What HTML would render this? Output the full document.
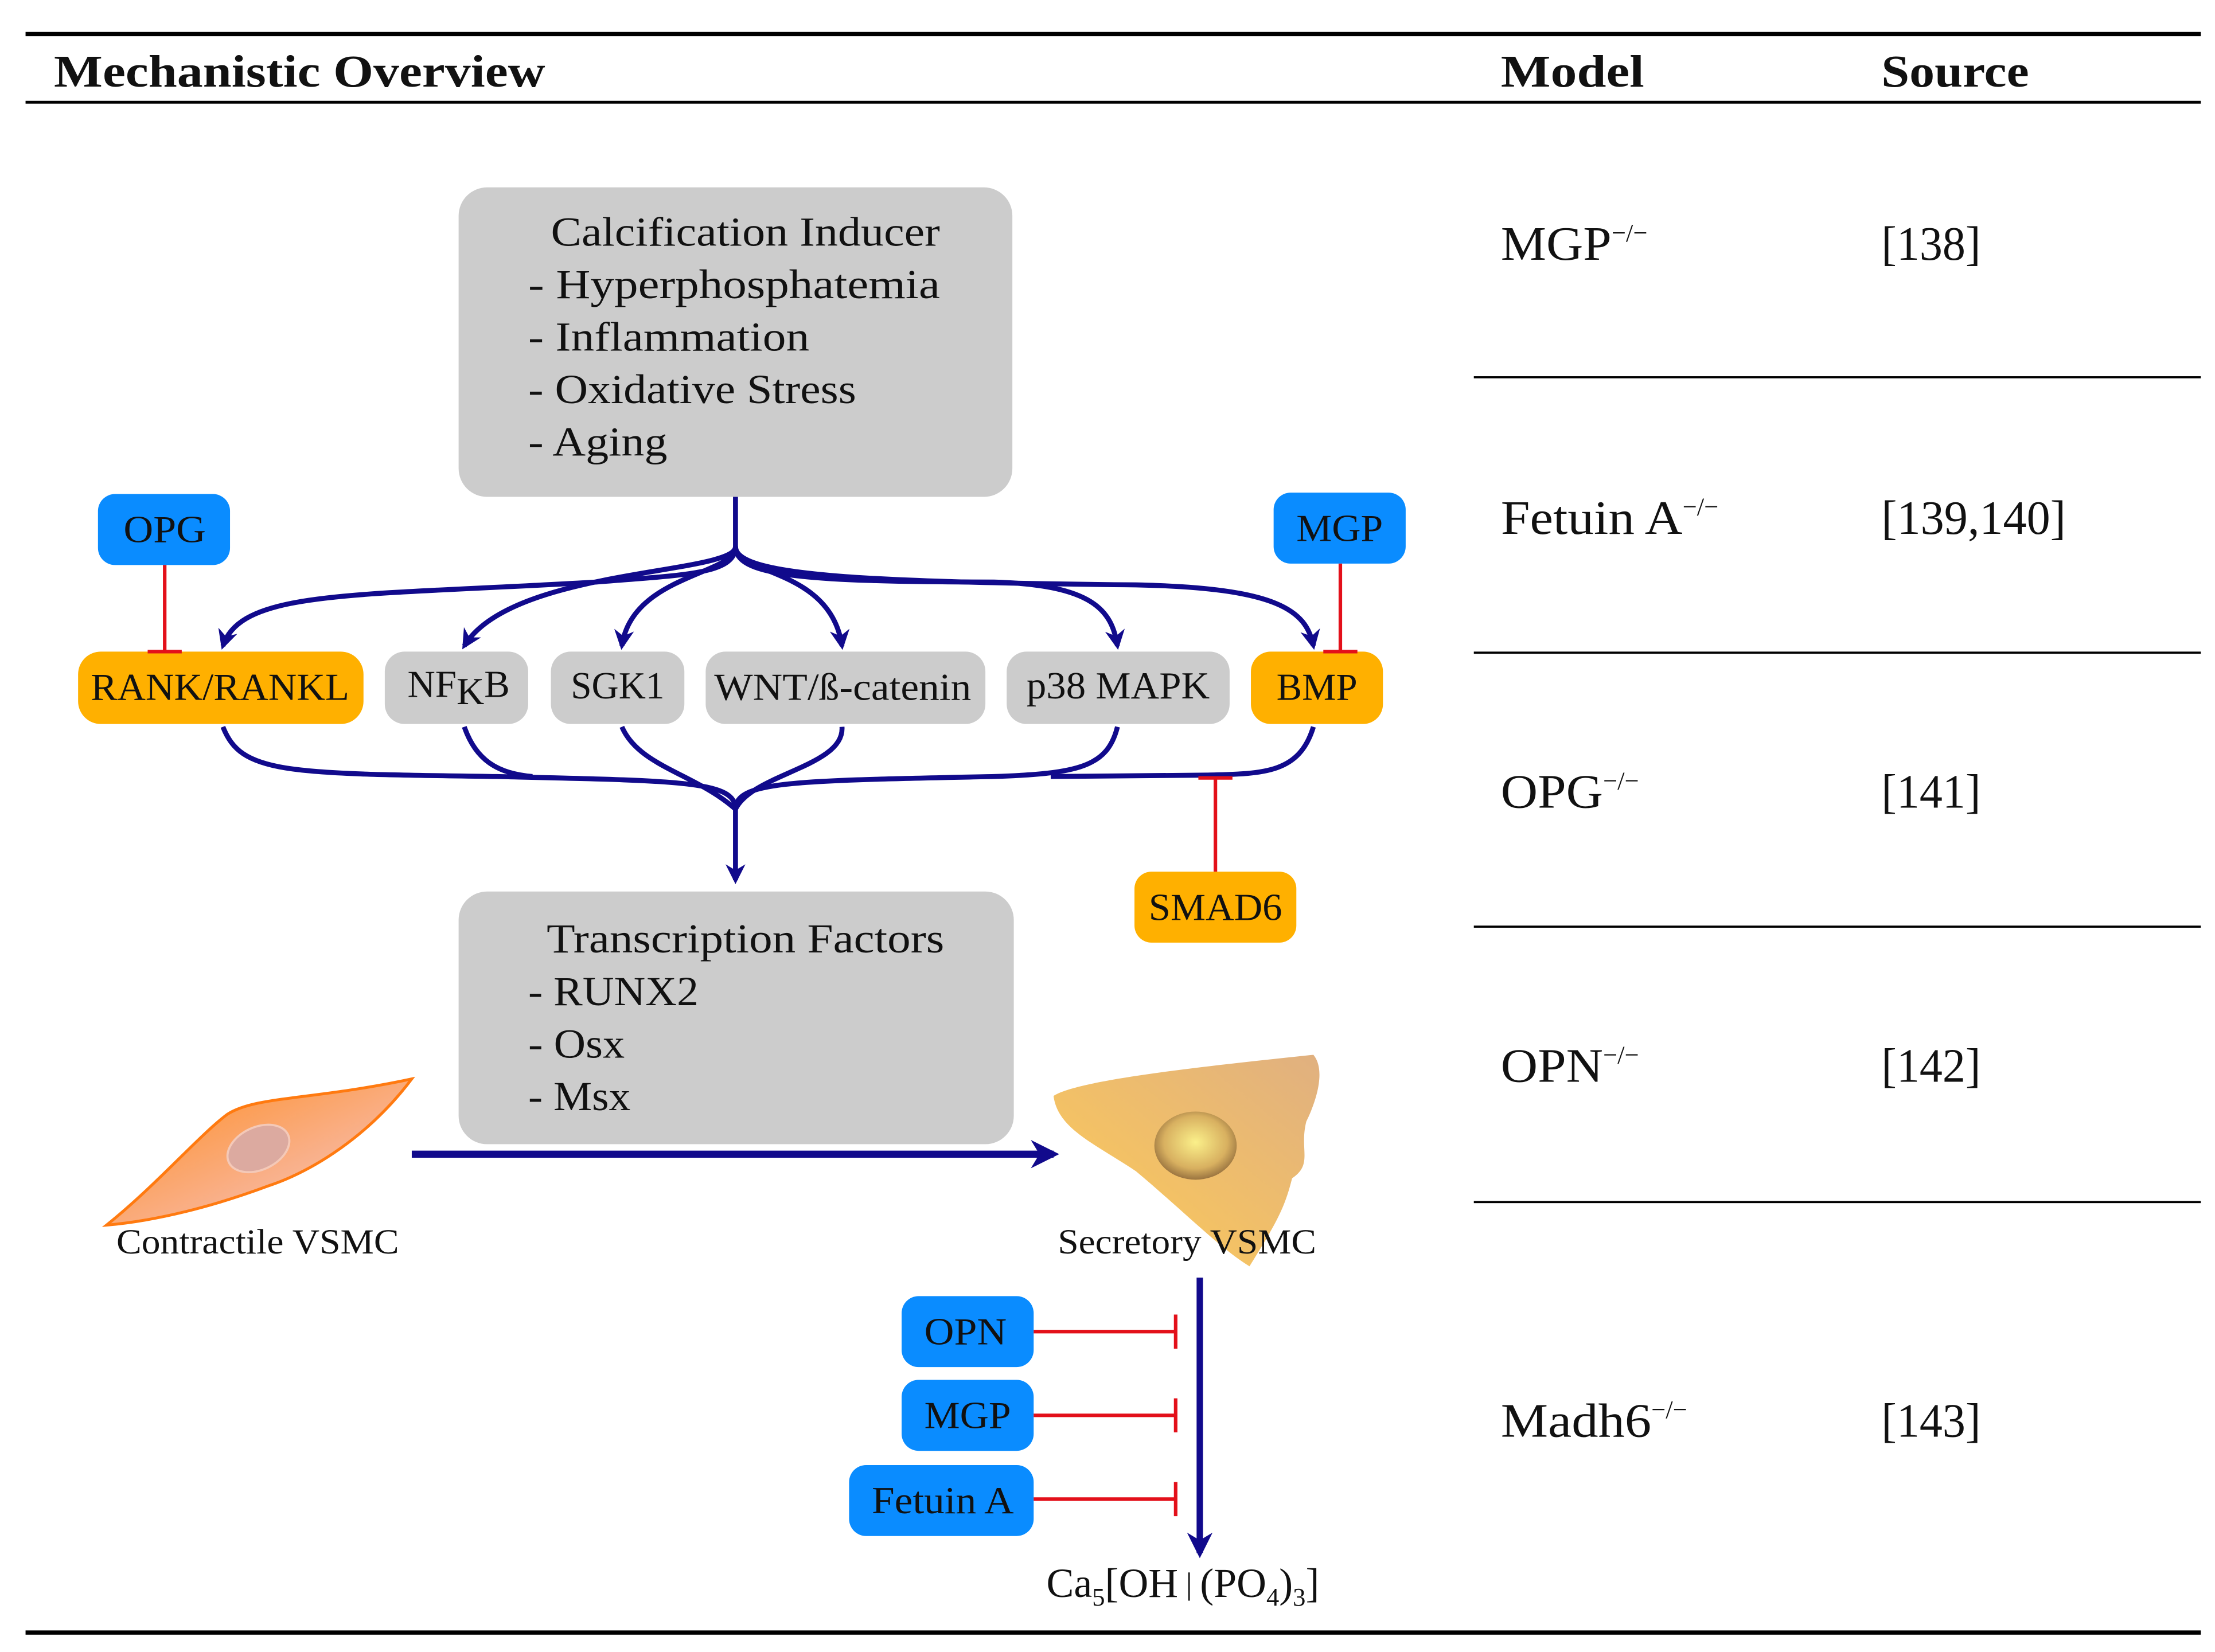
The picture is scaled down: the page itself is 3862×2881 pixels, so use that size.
<!DOCTYPE html>
<html><head><meta charset="utf-8"><style>
html,body{margin:0;padding:0;background:#fff}
svg{display:block}
text{font-family:"Liberation Serif",serif;fill:#111}
</style></head><body>
<svg width="3862" height="2881" viewBox="0 0 1560 1163.7" preserveAspectRatio="none" xmlns="http://www.w3.org/2000/svg">
<defs>
<marker id="ah" viewBox="0 0 10 10" refX="8" refY="5" markerWidth="4" markerHeight="4" orient="auto"><path d="M0,0 L10,5 L0,10 L3,5 z" fill="#110a8c"/></marker>
<radialGradient id="nuc" cx="0.5" cy="0.45" r="0.55"><stop offset="0" stop-color="#fbf08a"/><stop offset="0.7" stop-color="#d8b060"/><stop offset="1" stop-color="#9a7440"/></radialGradient>
<linearGradient id="sec" x1="0" y1="1" x2="1" y2="0"><stop offset="0" stop-color="#ffcc55"/><stop offset="1" stop-color="#e0b080"/></linearGradient>
<linearGradient id="con" x1="0" y1="0" x2="1" y2="1"><stop offset="0" stop-color="#ff8a1a"/><stop offset="0.6" stop-color="#f9b08a"/><stop offset="1" stop-color="#fbd0c0"/></linearGradient>
</defs>
<rect x="18" y="22.5" width="1532" height="3" fill="#000"/>
<rect x="18" y="71" width="1532" height="2" fill="#000"/>
<rect x="18" y="1148.5" width="1532" height="3" fill="#000"/>
<g fill="#000"><rect x="1038" y="265" width="512" height="1.5"/><rect x="1038" y="459" width="512" height="1.5"/><rect x="1038" y="652" width="512" height="1.5"/><rect x="1038" y="846" width="512" height="1.5"/></g>
<g font-size="32" font-weight="bold" lengthAdjust="spacingAndGlyphs">
<text x="38" y="61" textLength="346" lengthAdjust="spacingAndGlyphs">Mechanistic Overview</text>
<text x="1057" y="61" textLength="101" lengthAdjust="spacingAndGlyphs">Model</text>
<text x="1325" y="61" textLength="104" lengthAdjust="spacingAndGlyphs">Source</text>
</g>
<g font-size="34">
<text x="1057" y="183"><tspan textLength="78" lengthAdjust="spacingAndGlyphs">MGP</tspan><tspan font-size="18" dy="-13">−/−</tspan></text>
<text x="1057" y="376"><tspan textLength="128" lengthAdjust="spacingAndGlyphs">Fetuin A</tspan><tspan font-size="18" dy="-13">−/−</tspan></text>
<text x="1057" y="569"><tspan textLength="72" lengthAdjust="spacingAndGlyphs">OPG</tspan><tspan font-size="18" dy="-13">−/−</tspan></text>
<text x="1057" y="762"><tspan textLength="72" lengthAdjust="spacingAndGlyphs">OPN</tspan><tspan font-size="18" dy="-13">−/−</tspan></text>
<text x="1057" y="1012"><tspan textLength="106" lengthAdjust="spacingAndGlyphs">Madh6</tspan><tspan font-size="18" dy="-13">−/−</tspan></text>
<text x="1325" y="183" textLength="70" lengthAdjust="spacingAndGlyphs">[138]</text>
<text x="1325" y="376" textLength="130" lengthAdjust="spacingAndGlyphs">[139,140]</text>
<text x="1325" y="569" textLength="70" lengthAdjust="spacingAndGlyphs">[141]</text>
<text x="1325" y="762" textLength="70" lengthAdjust="spacingAndGlyphs">[142]</text>
<text x="1325" y="1012" textLength="70" lengthAdjust="spacingAndGlyphs">[143]</text>
</g>
<rect x="323" y="132" width="390" height="218" rx="20" fill="#cccccc"/>
<g font-size="29">
<text x="388" y="173" textLength="274" lengthAdjust="spacingAndGlyphs">Calcification Inducer</text>
<text x="372" y="210" textLength="290" lengthAdjust="spacingAndGlyphs">- Hyperphosphatemia</text>
<text x="372" y="247" textLength="198" lengthAdjust="spacingAndGlyphs">- Inflammation</text>
<text x="372" y="284" textLength="231" lengthAdjust="spacingAndGlyphs">- Oxidative Stress</text>
<text x="372" y="321" textLength="98" lengthAdjust="spacingAndGlyphs">- Aging</text>
</g>
<rect x="323" y="628" width="391" height="178" rx="20" fill="#cccccc"/>
<g font-size="29">
<text x="385" y="671" textLength="280" lengthAdjust="spacingAndGlyphs">Transcription Factors</text>
<text x="372" y="708" textLength="120" lengthAdjust="spacingAndGlyphs">- RUNX2</text>
<text x="372" y="745" textLength="68" lengthAdjust="spacingAndGlyphs">- Osx</text>
<text x="372" y="782" textLength="72" lengthAdjust="spacingAndGlyphs">- Msx</text>
</g>
<g fill="none" stroke="#110a8c" stroke-width="3.5">
<path d="M518,350 L518,385 C518,405 480,405 420,410 C250,420 170,415 157,455" marker-end="url(#ah)"/>
<path d="M518,385 C518,405 360,400 327,455" marker-end="url(#ah)"/>
<path d="M518,385 C518,405 445,405 438,455" marker-end="url(#ah)"/>
<path d="M518,385 C518,405 585,400 593,455" marker-end="url(#ah)"/>
<path d="M518,385 C518,405 560,410 700,410 C770,412 783,430 787,455" marker-end="url(#ah)"/>
<path d="M518,385 C518,405 600,410 800,412 C900,414 920,430 925,455" marker-end="url(#ah)"/>
<path d="M157,512 C170,545 200,545 350,547 C480,550 518,550 518,570"/>
<path d="M327,512 C335,535 350,545 375,547"/>
<path d="M438,512 C450,540 490,545 518,570"/>
<path d="M593,512 C595,540 530,545 518,570"/>
<path d="M787,512 C780,540 760,545 700,547 C560,550 518,550 518,570"/>
<path d="M925,512 C915,545 890,545 850,546 L740,547"/>
<path d="M518,565 L518,620" marker-end="url(#ah)"/>
<path d="M290,813 L742,813" stroke-width="5" marker-end="url(#ah)"/>
<path d="M845,900 L845,1094" stroke-width="4.5" marker-end="url(#ah)"/>
</g>
<rect x="55" y="459" width="201" height="51" rx="16" fill="#ffb000"/>
<rect x="271" y="459" width="101" height="51" rx="14" fill="#cccccc"/>
<rect x="388" y="459" width="94" height="51" rx="14" fill="#cccccc"/>
<rect x="497" y="459" width="197" height="51" rx="14" fill="#cccccc"/>
<rect x="709" y="459" width="157" height="51" rx="14" fill="#cccccc"/>
<rect x="881" y="459" width="93" height="51" rx="14" fill="#ffb000"/>
<g font-size="27">
<text x="64" y="493" textLength="182" lengthAdjust="spacingAndGlyphs">RANK/RANKL</text>
<text x="287" y="491">NF<tspan dy="5">K</tspan><tspan dy="-5">B</tspan></text>
<text x="402" y="492" textLength="66" lengthAdjust="spacingAndGlyphs">SGK1</text>
<text x="503" y="493" textLength="181" lengthAdjust="spacingAndGlyphs">WNT/ß-catenin</text>
<text x="723" y="492" textLength="129" lengthAdjust="spacingAndGlyphs">p38 MAPK</text>
<text x="899" y="493" textLength="57" lengthAdjust="spacingAndGlyphs">BMP</text>
</g>
<rect x="69" y="348" width="93" height="50" rx="12" fill="#0a8cff"/>
<rect x="897" y="347" width="93" height="50" rx="12" fill="#0a8cff"/>
<rect x="799" y="614" width="114" height="50" rx="12" fill="#ffb000"/>
<rect x="635" y="913" width="93" height="50" rx="12" fill="#0a8cff"/>
<rect x="635" y="972" width="93" height="50" rx="12" fill="#0a8cff"/>
<rect x="598" y="1032" width="130" height="50" rx="12" fill="#0a8cff"/>
<g font-size="27">
<text x="87" y="382" textLength="58" lengthAdjust="spacingAndGlyphs">OPG</text>
<text x="913" y="381" textLength="61" lengthAdjust="spacingAndGlyphs">MGP</text>
<text x="809" y="648" textLength="94" lengthAdjust="spacingAndGlyphs">SMAD6</text>
<text x="651" y="947" textLength="58" lengthAdjust="spacingAndGlyphs">OPN</text>
<text x="651" y="1006" textLength="61" lengthAdjust="spacingAndGlyphs">MGP</text>
<text x="614" y="1066" textLength="100" lengthAdjust="spacingAndGlyphs">Fetuin A</text>
</g>
<g stroke="#e3101a" stroke-width="2.5" fill="none">
<path d="M116,398 V459 M104,459 H128"/>
<path d="M944,397 V459 M932,459 H956"/>
<path d="M856,614 V548 M844,548 H868"/>
<path d="M728,938 H828 M828,926 V950"/>
<path d="M728,997 H828 M828,985 V1009"/>
<path d="M728,1056 H828 M828,1044 V1068"/>
</g>
<path d="M75,863 C110,835 140,800 160,785 C180,772 220,775 290,760 C260,800 220,825 190,835 C150,850 110,860 75,863 z" fill="url(#con)" stroke="#ff7a10" stroke-width="2"/>
<ellipse cx="182" cy="809" rx="23" ry="15" transform="rotate(-25 182 809)" fill="#dcaaa0" stroke="#f4c9b8" stroke-width="1.5"/>
<path d="M742,772 C760,760 860,750 925,743 C935,755 925,780 920,790 C915,810 925,820 910,830 C905,850 900,860 880,892 C860,880 830,850 800,825 C770,805 745,795 742,772 z" fill="url(#sec)"/>
<ellipse cx="842" cy="807" rx="29" ry="24" fill="url(#nuc)"/>
<g font-size="25">
<text x="82" y="883" textLength="199" lengthAdjust="spacingAndGlyphs">Contractile VSMC</text>
<text x="745" y="883" textLength="182" lengthAdjust="spacingAndGlyphs">Secretory VSMC</text>
</g>
<text x="737" y="1125" font-size="29">Ca<tspan font-size="18" dy="6">5</tspan><tspan dy="-6">[OH</tspan><tspan font-size="22" dy="-2"> | </tspan><tspan dy="2">(PO</tspan><tspan font-size="18" dy="6">4</tspan><tspan dy="-6">)</tspan><tspan font-size="18" dy="6">3</tspan><tspan dy="-6">]</tspan></text>
</svg>
</body></html>
